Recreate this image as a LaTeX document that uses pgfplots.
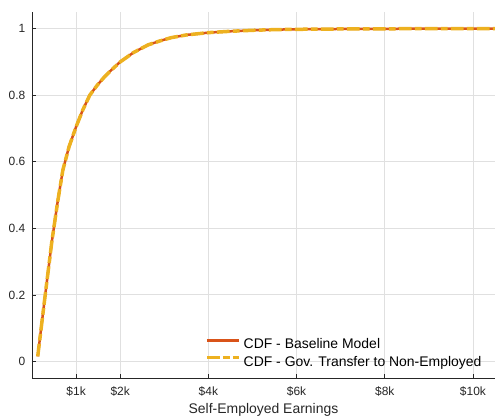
\documentclass[border=0pt]{standalone}
\usepackage{pgfplots}
\pgfplotsset{compat=1.18}
\usepackage{fontspec}
\setmainfont{Liberation Sans}
\definecolor{morange}{rgb}{0.85,0.325,0.098}
\definecolor{myellow}{rgb}{0.929,0.694,0.125}
\definecolor{mgray}{rgb}{0.15,0.15,0.15}
\begin{document}
\begin{tikzpicture}
\begin{axis}[
  scale only axis, width=463bp, height=366bp,
  xmin=0, xmax=10.5, ymin=-0.05, ymax=1.05,
  axis x line*=bottom, axis y line*=left,
  axis line style={mgray, line width=0.8bp, -},
  tick align=inside, major tick length=4bp,
  tick style={mgray, line width=0.6bp},
  xtick={1,2,4,6,8,10},
  xticklabels={\$1k,\$2k,\$4k,\$6k,\$8k,\$10k},
  ytick={0,0.2,0.4,0.6,0.8,1},
  yticklabels={0,0.2,0.4,0.6,0.8,1},
  xticklabel style={font=\fontsize{12}{14}\selectfont, text=mgray, anchor=base, yshift=-17.7bp},
  yticklabel style={font=\fontsize{12}{14}\selectfont, text=mgray, anchor=base east, inner sep=0pt, xshift=-6.5bp, yshift=-4.2bp},
  grid=major,
  major grid style={black!12, line width=0.8bp},
  xlabel={Self-Employed Earnings},
  xlabel style={font=\fontsize{14}{16}\selectfont, text=mgray, anchor=base, at={(axis description cs:0.5,-0.0965)}},
  legend style={draw=none, fill=none, at={(rel axis cs:0.3672,0.1128)}, anchor=north west,
    font=\fontsize{14}{16}\selectfont, text=black, row sep=4bp,
    nodes={inner sep=0pt, text height=10bp, text depth=3bp},
    /tikz/every odd column/.append style={column sep=3bp}},
  legend cell align=left,
  legend image code/.code={\draw[#1] (0bp,5bp) -- (32bp,5bp);},
]
\addplot[morange, line width=2.5bp] coordinates {
(0.13,0.015) (0.30,0.20) (0.45,0.36) (0.58,0.478) (0.70,0.575) (0.84,0.645)
(1.0,0.705) (1.15,0.755) (1.31,0.80) (1.48,0.83) (1.65,0.856) (1.82,0.878)
(2.0,0.90) (2.3,0.928) (2.63,0.951) (2.9,0.963) (3.16,0.973) (3.5,0.981)
(4.0,0.988) (4.5,0.992) (5.0,0.995) (5.5,0.997) (6.0,0.998) (7.0,0.999)
(8.0,0.9995) (9.0,1.0) (10.5,1.0)};
\addlegendentry{CDF - Baseline Model}
\addplot[myellow, line width=3.5bp, dash pattern=on 12.7bp off 3.3bp on 6.7bp off 3.3bp] coordinates {
(0.13,0.015) (0.30,0.20) (0.45,0.36) (0.58,0.478) (0.70,0.575) (0.84,0.645)
(1.0,0.705) (1.15,0.755) (1.31,0.80) (1.48,0.83) (1.65,0.856) (1.82,0.878)
(2.0,0.90) (2.3,0.928) (2.63,0.951) (2.9,0.963) (3.16,0.973) (3.5,0.981)
(4.0,0.988) (4.5,0.992) (5.0,0.995) (5.5,0.997) (6.0,0.998) (7.0,0.999)
(8.0,0.9995) (9.0,1.0) (10.5,1.0)};
\addlegendentry{CDF - Gov. Transfer to Non-Employed}
\end{axis}
\pgfresetboundingbox
\path[use as bounding box] (-32bp,-38bp) rectangle (463bp,378bp);
\end{tikzpicture}
\end{document}
